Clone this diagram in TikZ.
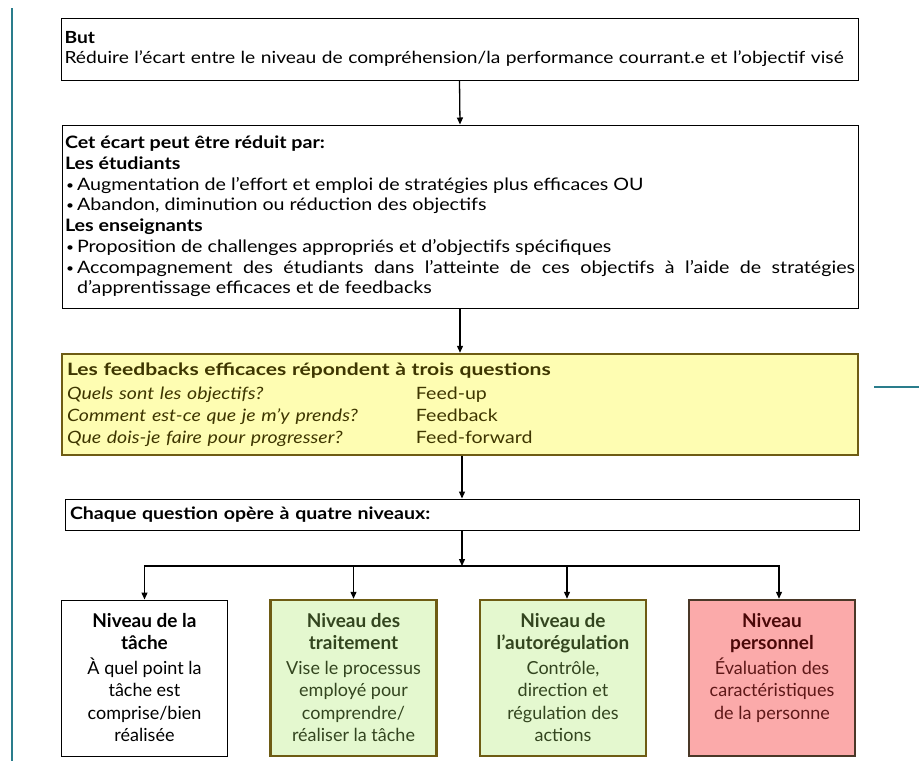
\documentclass[tikz,border=0pt]{standalone}
\usepackage{fontspec}
\setmainfont{Lato}
\newfontfamily\widefont{Lato}[FakeStretch=1.15]
\newfontfamily\widerfont{Lato}[FakeStretch=1.24]
\usetikzlibrary{arrows.meta}
\definecolor{tealline}{HTML}{2A7D8C}
\definecolor{yelfill}{HTML}{FEFDB2}
\definecolor{olive}{HTML}{6E5C14}
\definecolor{yeltext}{HTML}{3E3600}
\definecolor{grnfill}{HTML}{E4F8CF}
\definecolor{grntext}{HTML}{33451F}
\definecolor{redfill}{HTML}{FBAAAA}
\definecolor{redborder}{HTML}{4A3828}
\definecolor{redtitle}{HTML}{4A0808}
\definecolor{redtext}{HTML}{5E1818}
\newcommand\bul[1]{\par\hangindent=12pt\hangafter=1\noindent\makebox[12pt][l]{\hspace{1pt}\raisebox{1pt}{\scalebox{0.7}{•}}}#1}
\begin{document}
\begin{tikzpicture}[x=1pt,y=-1pt,
  wbox/.style={draw=black,line width=1pt,fill=white,inner xsep=3pt,inner ysep=2pt},
  arr/.style={draw=black,line width=1.3pt,-{Triangle[length=7pt,width=6pt]}},
  bar/.style={draw=black,line width=1.3pt},
  lvl/.style={minimum width=166pt,minimum height=156pt,inner sep=3pt,font=\fontsize{18}{22.5}\selectfont}
]
\useasboundingbox (0,0) rectangle (919,761);
\draw[tealline,line width=2pt] (12,8) -- (12,761);
\draw[tealline,line width=1.5pt] (874,387) -- (919,387);

\node[wbox,font=\widefont\fontsize{16.7}{20}\selectfont,minimum width=797pt,minimum height=62pt,text width=790pt,align=left] (b1) at (459.5,49)
 {{\bfseries But}\\Réduire l’écart entre le niveau de compréhension/la performance courrant.e et l’objectif visé};

\node[wbox,font=\widefont\fontsize{17.1}{20.7}\selectfont,minimum width=796pt,minimum height=183pt,text width=790pt,align=justify] (b2) at (460,216.5)
 {\setlength\parindent{0pt}{\bfseries Cet écart peut être réduit par:}\par
  {\bfseries Les étudiants}
  \bul{Augmentation de l’effort et emploi de stratégies plus efficaces OU}
  \bul{Abandon, diminution ou réduction des objectifs}\par
  {\bfseries Les enseignants}
  \bul{Proposition de challenges appropriés et d’objectifs spécifiques}
  \bul{Accompagnement des étudiants dans l’atteinte de ces objectifs à l’aide de stratégies\linebreak d’apprentissage efficaces et de feedbacks}\par};

\node[draw=olive,line width=2.5pt,fill=yelfill,font=\widefont\fontsize{17}{21.7}\selectfont,text=yeltext,minimum width=796pt,minimum height=101pt,text width=786pt,align=left,inner xsep=5pt] (yel) at (460,404.5)
 {\vspace*{3pt}{\widerfont\bfseries Les feedbacks efficaces répondent à trois questions}\\
  \makebox[349pt][l]{\itshape Quels sont les objectifs?}Feed-up\\
  \makebox[349pt][l]{\itshape Comment est-ce que je m’y prends?}Feedback\\
  \makebox[349pt][l]{\itshape Que dois-je faire pour progresser?}Feed-forward};

\node[wbox,font=\widefont\fontsize{17}{20}\selectfont,minimum width=792pt,minimum height=31pt,text width=784pt,align=left,inner xsep=5pt] (chq) at (462,514.5)
 {\bfseries Chaque question opère à quatre niveaux:};

\node[lvl,draw=black,line width=1pt,fill=white] (bA) at (144.5,678)
 {\parbox[t][142pt][t]{158pt}{\vspace*{6pt}\centering{\fontsize{19}{22}\selectfont\bfseries Niveau de la\\tâche\par}\vspace{2.5pt}
 À quel point la\\tâche est\\comprise/bien\\réalisée}};
\node[lvl,draw=olive,line width=2.5pt,fill=grnfill,text=grntext] (bB) at (353.5,678)
 {\parbox[t][142pt][t]{158pt}{\vspace*{6pt}\centering{\fontsize{19}{22}\selectfont\bfseries Niveau des\\traitement\par}\vspace{2.5pt}
 Vise le processus\\employé pour\\comprendre/\\réaliser la tâche}};
\node[lvl,draw=olive,line width=2.5pt,fill=grnfill,text=grntext] (bC) at (563,678)
 {\parbox[t][142pt][t]{158pt}{\vspace*{6pt}\centering{\fontsize{19}{22}\selectfont\bfseries Niveau de\\l’autorégulation\par}\vspace{2.5pt}
 Contrôle,\\direction et\\régulation des\\actions}};
\node[lvl,draw=redborder,line width=2.5pt,fill=redfill,text=redtext] (bD) at (772,678)
 {\parbox[t][142pt][t]{158pt}{\vspace*{6pt}\centering{\fontsize{19}{22}\selectfont\bfseries\color{redtitle}Niveau\\personnel\par}\vspace{2.5pt}
 Évaluation des\\caractéristiques\\de la personne}};

\draw[arr] (b1.south) -- (b2.north);
\draw[arr] (b2.south) -- (yel.north);
\draw[arr] (yel.south -| chq.north) -- (chq.north);
\coordinate (hub) at (462,566);
\draw[arr] (chq.south) -- (hub);
\draw[bar] ([xshift=-0.65pt]hub -| bA.north) -- ([xshift=7.65pt]hub -| bD.north);
\draw[arr] (hub -| bA.north) -- (bA.north);
\draw[arr] (hub -| bB.north) -- (bB.north);
\draw[arr] ([xshift=4pt]hub -| bC.north) -- ([xshift=4pt]bC.north);
\draw[arr] ([xshift=7pt]hub -| bD.north) -- ([xshift=7pt]bD.north);
\end{tikzpicture}
\end{document}
